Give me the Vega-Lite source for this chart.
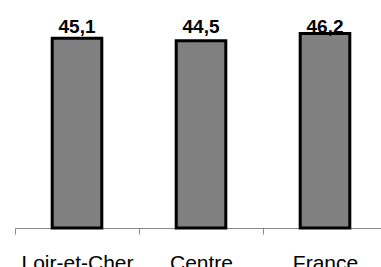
{
  "$schema": "https://vega.github.io/schema/vega-lite/v6.json",
  "width": 366,
  "height": 210.5,
  "autosize": {"type": "none"},
  "padding": {"left": 15, "top": 17.5, "right": 0, "bottom": 38.5},
  "background": "white",
  "config": {
    "view": {"stroke": null},
    "locale": {"number": {"decimal": ",", "thousands": " ", "grouping": [3], "currency": ["", " €"]}}
  },
  "data": {"values": [
    {"zone": "Loir-et-Cher", "valeur": 45.1},
    {"zone": "Centre", "valeur": 44.5},
    {"zone": "France", "valeur": 46.2}
  ]},
  "encoding": {
    "x": {
      "field": "zone", "type": "nominal", "sort": null,
      "scale": {"paddingInner": 0, "paddingOuter": 0, "range": [0, 372]},
      "axis": {
        "title": null, "labelAngle": 0, "tickBand": "extent",
        "domainColor": "#888888", "tickColor": "#888888", "tickSize": 6,
        "labelFont": "Liberation Sans", "labelFontSize": 21, "labelColor": "#000000",
        "labelPadding": 18
      }
    }
  },
  "layer": [
    {
      "mark": {"type": "bar", "fill": "#808080", "stroke": "#000000", "strokeWidth": 3, "width": {"band": 0.4}},
      "encoding": {
        "y": {"field": "valeur", "type": "quantitative", "scale": {"domain": [0, 50]}, "axis": null}
      }
    },
    {
      "mark": {"type": "text", "font": "Liberation Sans", "fontWeight": "bold", "fontSize": 19, "baseline": "alphabetic", "color": "#000000"},
      "encoding": {
        "y": {"datum": 46.3, "type": "quantitative", "scale": {"domain": [0, 50]}},
        "text": {"field": "valeur", "type": "quantitative", "format": ".1f"}
      }
    }
  ]
}
